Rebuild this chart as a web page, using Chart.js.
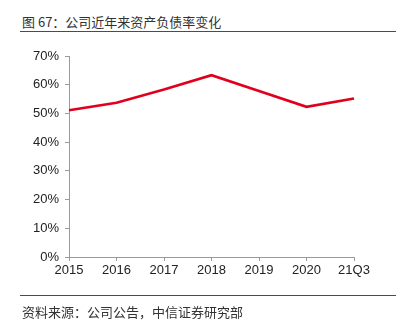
<!DOCTYPE html>
<html>
<head>
<meta charset="utf-8">
<script src="https://cdn.jsdelivr.net/npm/chart.js@4/dist/chart.umd.min.js"></script>
<style>
  html, body { margin: 0; padding: 0; background: #fff; }
  #wrap { position: relative; width: 406px; height: 332px; overflow: hidden; }
  #chart { position: absolute; left: 0; top: 0; }
  .cap { position: absolute; left: 22px; font-family: "Noto Sans CJK SC", "Noto Sans", sans-serif; font-size: 13px; color: #333; white-space: nowrap; line-height: 16px; }
  .rule { position: absolute; left: 20px; width: 376px; height: 1px; background: #c8161d; }
</style>
</head>
<body>
<div id="wrap">
  <div class="cap" style="top:14px;">图 67：公司近年来资产负债率变化</div>
  <div class="rule" style="top:31px;"></div>
  <canvas id="chart" width="406" height="332"></canvas>
  <div class="rule" style="top:295px;"></div>
  <div class="cap" style="top:304px;">资料来源：公司公告，中信证券研究部</div>
</div>
<script>
// Asset-liability ratio by period (%)
const periods = ['2015', '2016', '2017', '2018', '2019', '2020', '21Q3'];
const debtRatio = [51.1, 53.7, 58.3, 63.3, 57.8, 52.3, 55.2];
const yTicks = [0, 10, 20, 30, 40, 50, 60, 70];

const axisColor = '#9a9a9a';
const tickFont = { family: '"Liberation Sans", Arial, sans-serif', size: 13 };

new Chart(document.getElementById('chart'), {
  type: 'line',
  data: {
    labels: periods,
    datasets: [{
      data: debtRatio,
      borderColor: '#e0001b',
      borderWidth: 2.6,
      pointRadius: 0,
      tension: 0,
      fill: false
    }]
  },
  options: {
    responsive: false,
    animation: false,
    layout: { padding: { left: 0, top: 56, right: 52, bottom: 53 } },
    plugins: { legend: { display: false }, tooltip: { enabled: false } },
    scales: {
      x: {
        offset: false,
        grid: { drawOnChartArea: false, drawTicks: true, tickLength: 4, color: axisColor, tickColor: axisColor },
        border: { color: axisColor, width: 1 },
        ticks: { color: '#222', font: tickFont, padding: 2, maxRotation: 0, autoSkip: false },
        afterFit: s => { s.height = 22; }
      },
      y: {
        min: 0,
        max: 70,
        afterBuildTicks: s => { s.ticks = yTicks.map(v => ({ value: v })); },
        grid: { drawOnChartArea: false, drawTicks: true, tickLength: 4, color: axisColor, tickColor: axisColor },
        border: { color: axisColor, width: 1 },
        ticks: { color: '#222', font: tickFont, padding: 6, callback: v => v + '%' },
        afterFit: s => { s.width = 69; }
      }
    }
  }
});
</script>
</body>
</html>
